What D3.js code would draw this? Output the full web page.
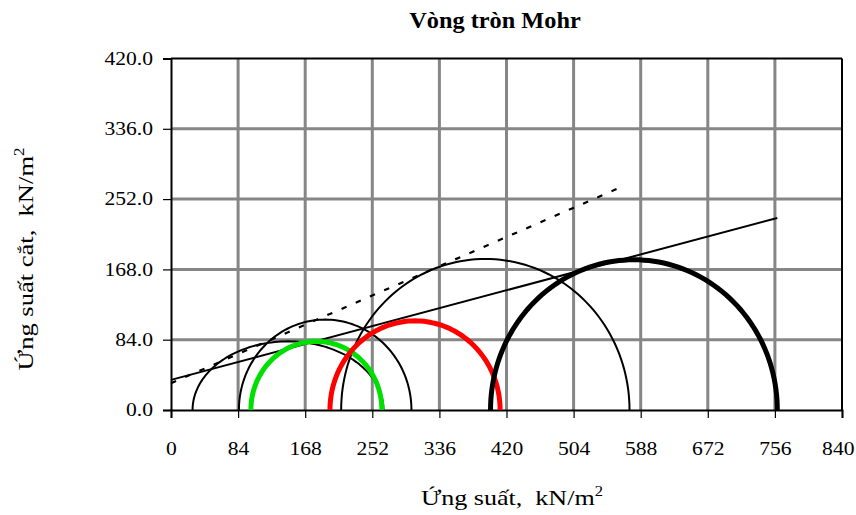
<!DOCTYPE html>
<html>
<head>
<meta charset="utf-8">
<script src="https://cdn.jsdelivr.net/npm/d3@7"></script>
<style>
  html, body { margin: 0; padding: 0; background: #fff; }
  svg text { font-family: "Liberation Serif", "Times New Roman", serif; fill: #000; }
</style>
</head>
<body>
<svg id="chart" width="856" height="515"></svg>
<script>
// Axis ticks
const xTicks = [0, 84, 168, 252, 336, 420, 504, 588, 672, 756, 840];
const yTicks = [0, 84, 168, 252, 336, 420];

// Mohr circles: minor / major principal stress and peak shear (kN/m2)
const circleNames  = ["tong1", "tong2", "tong3", "hieuqua1", "hieuqua2", "hieuqua3"];
const sigma3Values = [27, 85, 213, 100, 199, 400];
const sigma1Values = [266, 301, 574, 264, 412, 759];
const tauPeak      = [82, 108, 180.5, 82, 106.5, 179.5];
const circleColors = ["#000", "#000", "#000", "#00e000", "#ff0000", "#000"];
const circleWidths = [2, 2, 2, 5, 5, 5];

// Failure envelopes (sigma, tau)
const envelopeSolidSigma = [0, 759];
const envelopeSolidTau   = [36, 229.5];
const envelopeDashSigma  = [0, 565];
const envelopeDashTau    = [32, 267];

const svg = d3.select("#chart");
const plotL = 171, plotR = 842, plotT = 58.5, plotB = 410;
const stretch = 1.2;   // wide lettering used throughout

const x = d3.scaleLinear().domain([0, 840]).range([plotL, plotR]);
const y = d3.scaleLinear().domain([0, 420]).range([plotB, plotT]);

// Grid
const grid = svg.append("g");
grid.selectAll("line.v").data(xTicks.slice(1, -1)).join("line")
  .attr("class", "v")
  .attr("x1", d => x(d)).attr("x2", d => x(d))
  .attr("y1", plotT).attr("y2", plotB)
  .attr("stroke", "#868686").attr("stroke-width", 3);
grid.selectAll("line.h").data(yTicks.slice(1, -1)).join("line")
  .attr("class", "h")
  .attr("x1", plotL).attr("x2", plotR)
  .attr("y1", d => y(d)).attr("y2", d => y(d))
  .attr("stroke", "#868686").attr("stroke-width", 3);

// Plot frame (top and right)
svg.append("line").attr("x1", plotL).attr("x2", plotR).attr("y1", plotT).attr("y2", plotT)
  .attr("stroke", "#000").attr("stroke-width", 2);
svg.append("line").attr("x1", plotR).attr("x2", plotR).attr("y1", plotT).attr("y2", plotB)
  .attr("stroke", "#000").attr("stroke-width", 2);

// Axes
const xAxis = d3.axisBottom(x).tickValues(xTicks).tickSize(8).tickPadding(24)
  .tickFormat(d3.format("d"));
const gx = svg.append("g").attr("transform", `translate(0,${plotB})`).call(xAxis);
gx.select(".domain").attr("stroke-width", 2);
gx.selectAll(".tick line").attr("stroke-width", 1.2);
gx.selectAll("text").style("font-size", "18px").attr("transform", `scale(${stretch},1)`);
// keep the last label inside the page edge
gx.selectAll("text").filter(d => d === 840).attr("text-anchor", "end").attr("x", 12 / stretch);

const yAxis = d3.axisLeft(y).tickValues(yTicks).tickSize(8).tickPadding(10)
  .tickFormat(d3.format(".1f"));
const gy = svg.append("g").attr("transform", `translate(${plotL},0)`).call(yAxis);
gy.select(".domain").attr("stroke-width", 2);
gy.selectAll(".tick line").attr("stroke-width", 1.2);
gy.selectAll("text").style("font-size", "18px")
  .attr("x", -18 / stretch).attr("transform", `scale(${stretch},1)`);

// Envelopes
const line = d3.line().x(d => x(d[0])).y(d => y(d[1]));
svg.append("path")
  .attr("d", line(envelopeDashSigma.map((s, i) => [s, envelopeDashTau[i]])))
  .attr("fill", "none").attr("stroke", "#000").attr("stroke-width", 2.2)
  .attr("stroke-dasharray", "5.5,10");
svg.append("path")
  .attr("d", line(envelopeSolidSigma.map((s, i) => [s, envelopeSolidTau[i]])))
  .attr("fill", "none").attr("stroke", "#000").attr("stroke-width", 2);

// Half circles, traced from 180° to 0°
const angles = d3.range(0, 181, 2).map(a => a * Math.PI / 180);
const arcs = circleNames.map((name, i) => {
  const c = (sigma1Values[i] + sigma3Values[i]) / 2;
  const r = (sigma1Values[i] - sigma3Values[i]) / 2;
  return angles.map(t => [c - r * Math.cos(t), tauPeak[i] * Math.sin(t)]);
});
svg.append("g").selectAll("path").data(arcs).join("path")
  .attr("d", d => line(d))
  .attr("fill", "none")
  .attr("stroke", (d, i) => circleColors[i])
  .attr("stroke-width", (d, i) => circleWidths[i]);

// Titles, each widened to its lettering width
function fitText(g, width) {
  const w = g.node().getBBox().width;
  g.select("text").attr("transform", `scale(${width / w},1)`);
}

const tg = svg.append("g").attr("transform", "translate(495,28)");
tg.append("text").attr("text-anchor", "middle")
  .style("font-size", "24px").style("font-weight", "bold").text("Vòng tròn Mohr");
fitText(tg, 172);

const xg = svg.append("g").attr("transform", "translate(512,505)");
const xt = xg.append("text").attr("text-anchor", "middle").style("font-size", "22px")
  .attr("xml:space", "preserve");
xt.append("tspan").text("Ứng suất,  kN/m");
xt.append("tspan").attr("dy", -9).style("font-size", "14px").text("2");
fitText(xg, 182);

const yg = svg.append("g").attr("transform", "translate(33,259) rotate(-90)");
const yt = yg.append("text").attr("text-anchor", "middle").style("font-size", "22px")
  .attr("xml:space", "preserve");
yt.append("tspan").text("Ứng suất cắt,  kN/m");
yt.append("tspan").attr("dy", -9).style("font-size", "14px").text("2");
fitText(yg, 223);
</script>
</body>
</html>
